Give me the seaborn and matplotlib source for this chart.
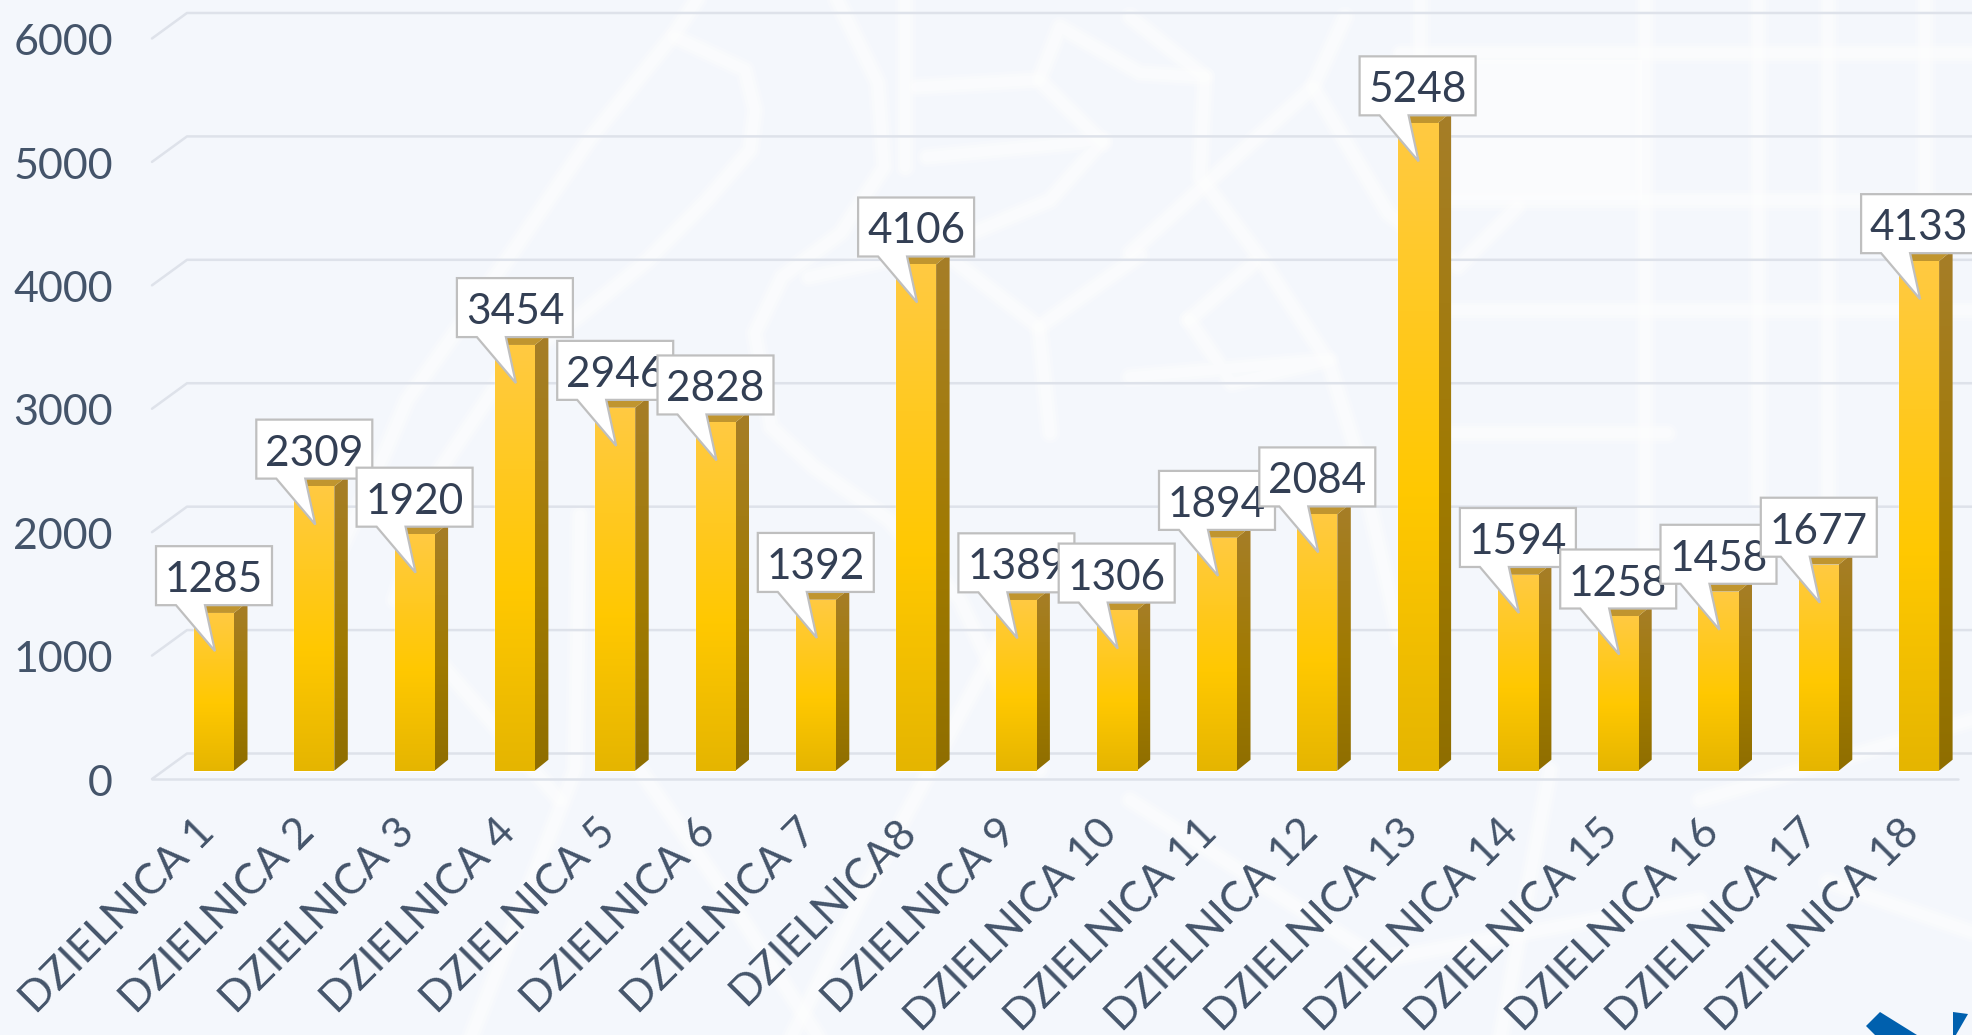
import numpy as np
import pandas as pd
import matplotlib
matplotlib.use('Agg')
import matplotlib.pyplot as plt
import seaborn as sns
from matplotlib.colors import LinearSegmentedColormap
from matplotlib.patches import Polygon, Rectangle
from matplotlib.transforms import Affine2D

# Data
districts = ['DZIELNICA 1', 'DZIELNICA 2', 'DZIELNICA 3', 'DZIELNICA 4', 'DZIELNICA 5', 'DZIELNICA 6',
             'DZIELNICA 7', 'DZIELNICA8', 'DZIELNICA 9', 'DZIELNICA 10', 'DZIELNICA 11', 'DZIELNICA 12',
             'DZIELNICA 13', 'DZIELNICA 14', 'DZIELNICA 15', 'DZIELNICA 16', 'DZIELNICA 17', 'DZIELNICA 18']
values = [1285, 2309, 1920, 3454, 2946, 2828, 1392, 4106, 1389, 1306, 1894, 2084, 5248, 1594, 1258, 1458, 1677, 4133]
y_ticks = [0, 1000, 2000, 3000, 4000, 5000, 6000]

# Layout, pixels
W, H = 1972, 1035
PITCH = 100.3
FIRST_X = 214
BAR_W = 40
BAR_SCALE = 0.1236
BAR_ZERO = 772
BAR_BASE = 771
DEPTH_X, DEPTH_Y = 13.5, 11
AX_LEFT, AX_BOTTOM = 122, 780
GRID_SCALE = 0.12342
GRID_FRONT, GRID_BACK = 779, 753.5

BG = '#F4F7FC'
TICK_COLOR = '#44546A'
LABEL_COLOR = '#333F54'
GRID_COLOR = '#DEE2EA'

# Faint street map behind the chart
streets = [
    [(700, -5), (675, 33), (589, 140), (514, 250), (407, 400), (386, 450), (335, 560), (300, 640)],
    [(675, 37), (745, 70), (755, 110), (750, 150), (707, 200), (648, 260), (578, 317), (509, 367), (440, 470), (395, 600)],
    [(835, -5), (878, 83), (884, 167), (841, 233), (782, 277), (755, 333), (771, 427), (814, 467), (889, 520), (960, 600), (1040, 770)],
    [(905, -5), (905, 167)],
    [(916, 87), (1039, 80), (1103, 143)],
    [(927, 157), (1103, 140), (1050, 200), (932, 250), (809, 277)],
    [(1039, 80), (1060, 27), (1140, 73), (1205, 77)],
    [(953, 260), (1039, 327), (1140, 255)],
    [(1039, 327), (1050, 433)],
    [(1130, 17), (1205, 77), (1200, 177), (1264, 263), (1329, 363), (1361, 467), (1400, 640)],
    [(1130, 253), (1210, 180), (1313, 87), (1345, 17)],
    [(1189, 320), (1254, 263)],
    [(1189, 320), (1232, 383), (1329, 360), (1130, 377)],
    [(1313, 87), (1388, 213), (1458, 267), (1517, 207)],
    [(1400, 53), (1972, 53)],
    [(1452, 310), (1972, 310)],
    [(1452, 200), (1972, 200)],
    [(1452, 433), (1667, 433)],
    [(1420, -5), (1420, 200)],
    [(1645, -5), (1645, 600)],
    [(1758, -5), (1758, 500)],
    [(1828, -5), (1828, 500)],
    [(1925, -5), (1925, 640)],
    [(580, 515), (575, 770), (470, 1040)],
    [(640, 770), (730, 900), (820, 1040)],
    [(1000, 640), (860, 900), (790, 1040)],
    [(1130, 800), (1380, 960), (1700, 900)],
    [(1550, 770), (1500, 1040)],
    [(1828, 882), (1972, 932)],
    [(1700, 800), (1972, 720)],
    [(420, 640), (560, 800)],
]

logo_parts = [
    [(1866, 1026), (1880, 1012), (1925, 1040), (1880, 1040)],
    [(1953, 1012), (1968, 1014), (1953, 1040)],
]

sns.set_theme(style='white')
plt.rcParams['font.family'] = ['Lato', 'DejaVu Sans']

fig = plt.figure(figsize=(W / 100, H / 100), dpi=100, facecolor=BG)
ax = fig.add_axes([AX_LEFT / W, (H - AX_BOTTOM) / H, (W - AX_LEFT) / W, AX_BOTTOM / H])
ax.patch.set_visible(False)

# top-left pixel coordinates for the decoration
px = Affine2D().scale(1, -1).translate(0, H)

df = pd.DataFrame({'district': districts, 'value': values})
sns.barplot(data=df, x='district', y='value', color='#FFC800', saturation=1, width=BAR_W / PITCH, ax=ax, zorder=3)

# three passes give the streets a soft edge
for pts in streets:
    xs, ys = zip(*pts)
    for lw, alpha in [(15, 0.2), (11, 0.3), (7, 0.35)]:
        ax.plot(xs, ys, color='white', lw=lw, alpha=alpha, transform=px, clip_on=False, zorder=0,
                solid_joinstyle='round', solid_capstyle='round')
ax.add_patch(Rectangle((1452, 60), 190, 140, color='white', alpha=0.6, transform=px, clip_on=False, zorder=0, lw=0))

for part in logo_parts:
    ax.add_patch(Polygon(part, closed=True, color='#0060AE', lw=0, transform=px, clip_on=False, zorder=1))

# Walls of the 3D frame
for v in y_ticks:
    y_front = GRID_FRONT - v * GRID_SCALE
    y_back = GRID_BACK - v * GRID_SCALE
    ax.plot([152, 187, W + 5], [y_front, y_back, y_back], color=GRID_COLOR, lw=1.8, transform=px,
            clip_on=False, zorder=2)
ax.plot([152, 1958], [GRID_FRONT, GRID_FRONT], color=GRID_COLOR, lw=1.8, transform=px, clip_on=False, zorder=2)

front_cmap = LinearSegmentedColormap.from_list('front', [(0, '#E5B500'), (0.42, '#FFC800'), (1, '#FFCA42')])
side_cmap = LinearSegmentedColormap.from_list('side', [(0, '#8F6E00'), (0.42, '#A07A00'), (1, '#A67E28')])
grad = np.linspace(1, 0, 256).reshape(-1, 1)

dx = DEPTH_X / PITCH
dy = DEPTH_Y / BAR_SCALE
base = (BAR_ZERO - BAR_BASE) / BAR_SCALE

for bar, v in zip(ax.patches, values):
    bar.set_y(base)
    bar.set_height(v - base)
    x0 = bar.get_x()
    x1 = x0 + bar.get_width()

    side = Polygon([(x1, base), (x1 + dx, base + dy), (x1 + dx, v + dy), (x1, v)], closed=True, lw=0,
                   facecolor='none', zorder=3)
    ax.add_patch(side)
    im = ax.imshow(grad, extent=(x1, x1 + dx, base, v + dy), aspect='auto', cmap=side_cmap, zorder=3, vmin=0, vmax=1)
    im.set_clip_path(side)

    ax.add_patch(Polygon([(x0, v), (x0 + dx, v + dy), (x1 + dx, v + dy), (x1, v)], closed=True, lw=0,
                         facecolor='#C0952F', zorder=3))

    im = ax.imshow(grad, extent=(x0, x1, base, v), aspect='auto', cmap=front_cmap, zorder=4, vmin=0, vmax=1)
    im.set_clip_path(bar)

ax.set_xlim((AX_LEFT - FIRST_X) / PITCH, (W - FIRST_X) / PITCH)
ax.set_ylim((BAR_ZERO - AX_BOTTOM) / BAR_SCALE, BAR_ZERO / BAR_SCALE)

# y labels sit on the front wall edge, x labels run up to the bar
ax.set_yticks([(BAR_ZERO - (780.3 - v * GRID_SCALE)) / BAR_SCALE for v in y_ticks])
ax.set_yticklabels([str(v) for v in y_ticks])
ax.set_xticks(range(len(districts)))
ax.set_xticklabels(districts, rotation=45, ha='right', va='center', rotation_mode='anchor')
ax.tick_params(axis='y', length=0, pad=6.5, labelsize=31, labelcolor=TICK_COLOR)
ax.tick_params(axis='x', length=0, pad=33, labelsize=31, labelcolor=TICK_COLOR)
for label in ax.get_xticklabels():
    label.set_transform(label.get_transform() + Affine2D().translate(-6, 0))
ax.set_xlabel('')
ax.set_ylabel('')
sns.despine(ax=ax, left=True, bottom=True)

# Callouts, later ones cover earlier ones
for i, v in enumerate(values):
    cx = FIRST_X + i * PITCH
    top = BAR_ZERO - v * BAR_SCALE
    box_bottom = top - 8
    box_top = box_bottom - 59
    shape = [(cx - 58, box_top), (cx + 58, box_top), (cx + 58, box_bottom), (cx - 9, box_bottom),
             (cx + 1, top + 38), (cx - 38, box_bottom), (cx - 58, box_bottom)]
    ax.add_patch(Polygon(shape, closed=True, facecolor='white', edgecolor='#BFBFBF', lw=1.6, transform=px,
                         clip_on=False, zorder=10 + i, joinstyle='miter'))
    ax.text(cx, (box_top + box_bottom) / 2 + 1, str(v), transform=px, ha='center', va='center_baseline',
            fontsize=30.5, color=LABEL_COLOR, clip_on=True, zorder=10.5 + i)

fig.savefig('out.png', dpi=100, facecolor=BG)
